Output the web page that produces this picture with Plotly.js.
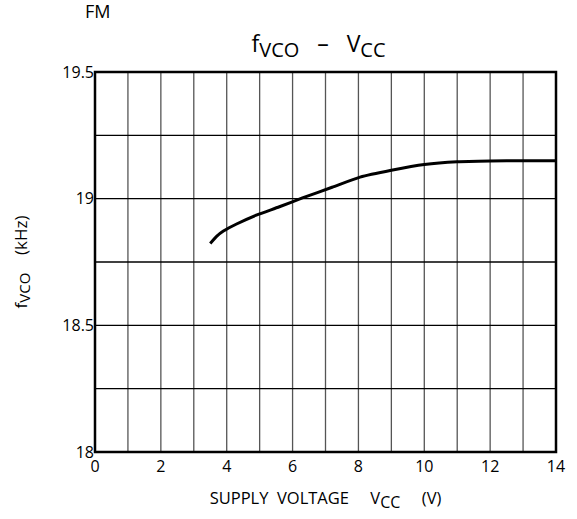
<!DOCTYPE html>
<html><head><meta charset="utf-8">
<script src="https://cdn.plot.ly/plotly-3.0.1.min.js"></script>
<style>body{margin:0;background:#fff}#chart{width:577px;height:519px}</style>
</head><body><div id="chart"></div>
<script>
const supplyVoltage = [3.5, 3.7, 3.9, 4.3, 4.9, 5.6, 6.3, 7.2, 8.05, 9.0, 10.0, 11.0, 12.0, 13.0, 14.0];
const fvco = [18.823, 18.852, 18.872, 18.900, 18.935, 18.968, 19.003, 19.045, 19.085, 19.112, 19.135, 19.146, 19.149, 19.150, 19.150];
const xTicks = [0, 2, 4, 6, 8, 10, 12, 14];
const yTicks = [18, 18.5, 19, 19.5];
const yTickText = ['18', '18.5', '19', '19.5'];

const font = 'Open Sans, DejaVu Sans, sans-serif';
const data = [{
  x: supplyVoltage, y: fvco, type: 'scatter', mode: 'lines',
  line: {color: '#000', width: 3, shape: 'spline', smoothing: 0.6},
  hoverinfo: 'skip'
}];
const shapes = [];
for (let v = 1; v < 14; v++) shapes.push({type:'line', xref:'x', yref:'paper', x0:v, x1:v, y0:0, y1:1, line:{color:'#555', width:1.3}, layer:'below'});
[18.25, 18.5, 18.75, 19, 19.25].forEach(v => shapes.push({type:'line', xref:'paper', yref:'y', x0:0, x1:1, y0:v, y1:v, line:{color:'#000', width:1.3}, layer:'below'}));
shapes.push({type:'rect', xref:'paper', yref:'paper', x0:0, x1:1, y0:0, y1:1, line:{color:'#000', width:2.5}});

const layout = {
  width: 577, height: 519,
  margin: {l: 95, r: 21, t: 72, b: 67},
  paper_bgcolor: '#fff', plot_bgcolor: '#fff',
  showlegend: false,
  font: {family: font, color: '#000', size: 14},
  title: {text: 'f<sub><span style="font-size:20px">VCO</span></sub>   –   V<sub><span style="font-size:20px">CC</span></sub>', x: 0.552, xanchor: 'center', y: 0.915, yanchor: 'middle', font: {size: 23, family: font}},
  xaxis: {range: [0, 14], tickvals: xTicks, ticktext: xTicks.map(String), showgrid: false, zeroline: false, showline: false, ticks: '', tickfont: {size: 16}, ticklabelstandoff: 3,
    title: {text: 'SUPPLY  VOLTAGE     V<sub><span style="font-size:16px">CC</span></sub>     (V)', font: {size: 16.5}, standoff: 16}},
  yaxis: {range: [18, 19.5], tickvals: yTicks, ticktext: yTickText, showgrid: false, zeroline: false, showline: false, ticks: '', tickfont: {size: 16},
    title: {text: 'f<sub><span style="font-size:15px">VCO</span></sub>    (kHz)', font: {size: 17}, standoff: 30}},
  shapes: shapes,
  annotations: [{text: 'FM', xref: 'paper', yref: 'paper', x: -0.025, y: 1.16, xanchor: 'left', yanchor: 'middle', showarrow: false, font: {size: 18, family: font}}]
};
Plotly.newPlot('chart', data, layout, {displayModeBar: false, staticPlot: true});
</script></body></html>
